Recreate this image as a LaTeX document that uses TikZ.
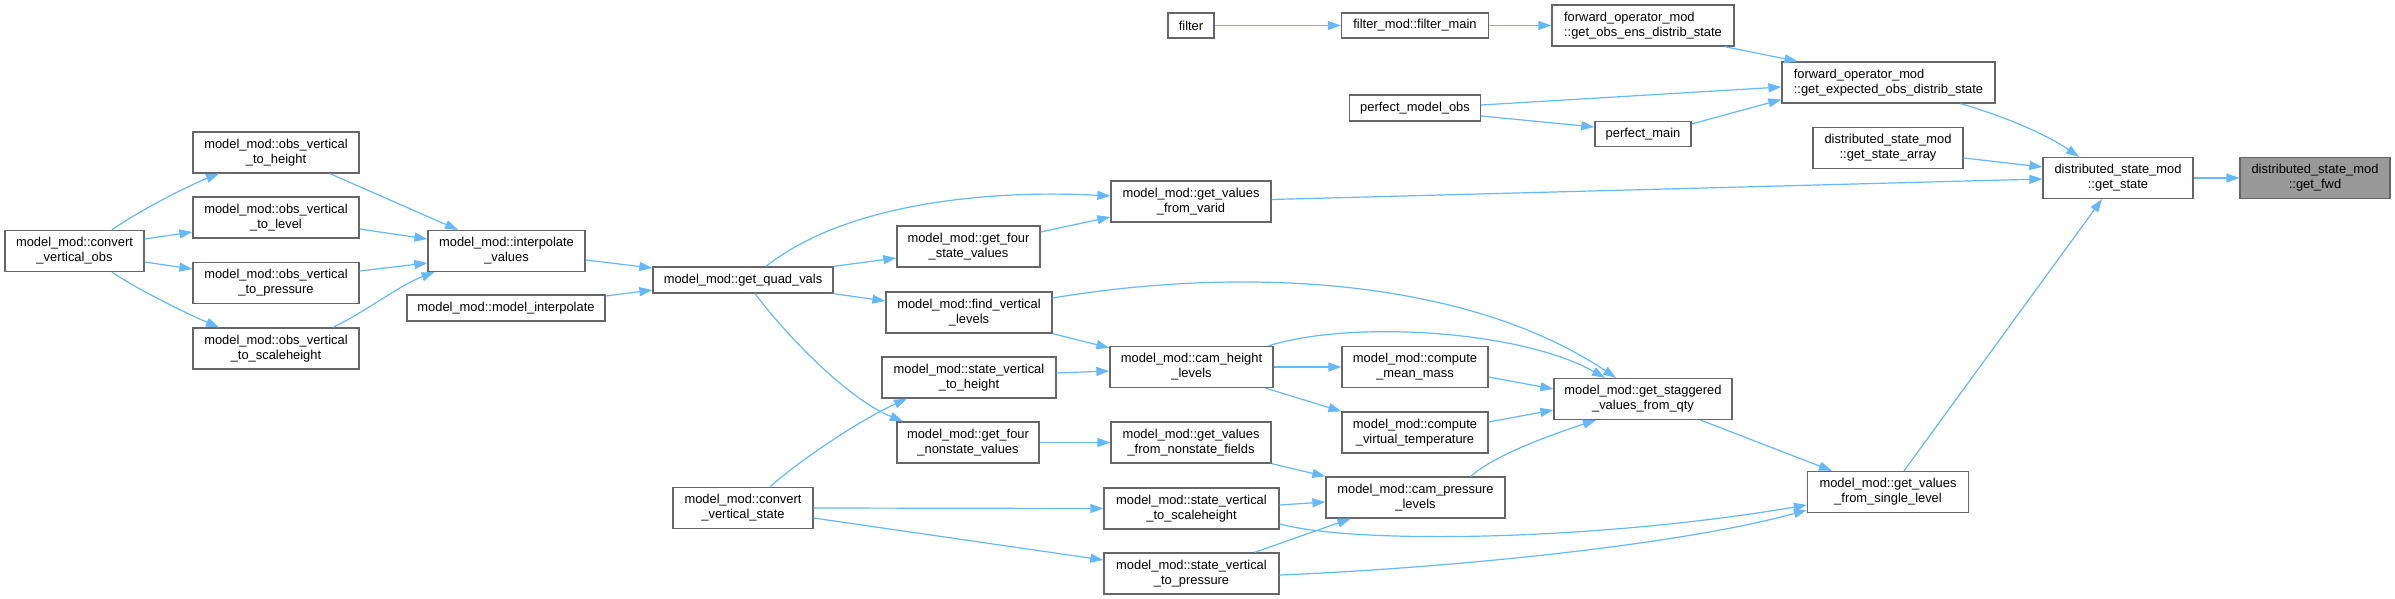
\documentclass[tikz,border=0pt]{standalone}
\usepackage{fontspec}
\setmainfont{Liberation Sans}
\usetikzlibrary{arrows.meta}
\definecolor{edgeblue}{HTML}{63B8FF}
\definecolor{boxgray}{HTML}{666666}
\definecolor{mainfill}{HTML}{999999}
\begin{document}
\begin{tikzpicture}[x=1pt,y=-1pt,
  fn/.style={draw=boxgray, line width=1.3pt, fill=white, inner sep=1pt, align=center, text=black,
    font=\fontsize{12.9pt}{15pt}\selectfont, minimum height=41pt},
  fnone/.style={fn, minimum height=26pt},
  call/.style={draw=edgeblue, line width=1.2pt, -{Triangle[length=13pt,width=9pt]}},
]
\useasboundingbox[fill=white] (0,0) rectangle (2395,599);

% nodes
\node[fn, minimum width=150pt, fill=mainfill] (fwd) at (2315,178) {distributed\_state\_mod\\::get\_fwd};
\node[fn, minimum width=150pt] (gs) at (2118,178) {distributed\_state\_mod\\::get\_state};
\node[fn, minimum width=213pt, align=left] (gexp) at (1888.5,82.5) {forward\_operator\_mod\\::get\_expected\_obs\_distrib\_state};
\node[fn, minimum width=150pt] (gsa) at (1888,148) {distributed\_state\_mod\\::get\_state\_array};
\node[fn, minimum width=161pt] (gsl) at (1888,492) {model\_mod::get\_values\\\_from\_single\_level};
\node[fn, minimum width=182pt, align=left] (goes) at (1643,25.5) {forward\_operator\_mod\\::get\_obs\_ens\_distrib\_state};
\node[fnone, minimum width=96pt, minimum height=25pt] (pmain) at (1643,134) {perfect\_main};
\node[fn, minimum width=178pt] (stag) at (1643,399) {model\_mod::get\_staggered\\\_values\_from\_qty};
\node[fnone, minimum width=147pt, minimum height=25pt] (fmain) at (1415,25.5) {filter\_mod::filter\_main};
\node[fnone, minimum width=131pt] (pmo) at (1415,108) {perfect\_model\_obs};
\node[fn, minimum width=146pt] (mmass) at (1415,367) {model\_mod::compute\\\_mean\_mass};
\node[fn, minimum width=146pt] (vtemp) at (1415,432.5) {model\_mod::compute\\\_virtual\_temperature};
\node[fn, minimum width=179pt] (cpl) at (1415.5,497.5) {model\_mod::cam\_pressure\\\_levels};
\node[fnone, minimum width=46pt, minimum height=25pt] (filter) at (1191,25.5) {filter};
\node[fn, minimum width=160pt] (varid) at (1191,201.5) {model\_mod::get\_values\\\_from\_varid};
\node[fn, minimum width=163pt] (chl) at (1191.5,367) {model\_mod::cam\_height\\\_levels};
\node[fn, minimum width=160pt] (nsf) at (1191,442.5) {model\_mod::get\_values\\\_from\_nonstate\_fields};
\node[fn, minimum width=175pt] (svsh) at (1191.5,508.5) {model\_mod::state\_vertical\\\_to\_scaleheight};
\node[fn, minimum width=175pt] (svp) at (1191.5,573.5) {model\_mod::state\_vertical\\\_to\_pressure};
\node[fn, minimum width=143pt] (fsv) at (968.5,246.5) {model\_mod::get\_four\\\_state\_values};
\node[fn, minimum width=166pt] (fvl) at (969,312.5) {model\_mod::find\_vertical\\\_levels};
\node[fn, minimum width=174pt] (svh) at (969,377.5) {model\_mod::state\_vertical\\\_to\_height};
\node[fn, minimum width=142pt] (fns) at (968,442.5) {model\_mod::get\_four\\\_nonstate\_values};
\node[fnone, minimum width=180pt] (qv) at (743,280) {model\_mod::get\_quad\_vals};
\node[fn, minimum width=140pt] (cvs) at (743,508) {model\_mod::convert\\\_vertical\_state};
\node[fn, minimum width=157pt] (iv) at (506.5,251) {model\_mod::interpolate\\\_values};
\node[fnone, minimum width=198pt] (mi) at (506,308) {model\_mod::model\_interpolate};
\node[fn, minimum width=166pt] (oh) at (276,152.5) {model\_mod::obs\_vertical\\\_to\_height};
\node[fn, minimum width=166pt] (ol) at (276,217.5) {model\_mod::obs\_vertical\\\_to\_level};
\node[fn, minimum width=166pt] (op) at (276,283) {model\_mod::obs\_vertical\\\_to\_pressure};
\node[fn, minimum width=166pt] (os) at (276,348.5) {model\_mod::obs\_vertical\\\_to\_scaleheight};
\node[fn, minimum width=139pt] (cvo) at (74.5,251) {model\_mod::convert\\\_vertical\_obs};

% edges
\draw[call] (gs.east) -- (fwd.west);
\draw[call] ([xshift=72pt]gexp.south) .. controls (1990,112) and (2040,130) .. ([xshift=-39pt]gs.north);
\draw[call] ([yshift=-10pt]gsa.east) -- ([yshift=11pt]gs.west);
\draw[call] ([yshift=2pt]varid.east) -- ([yshift=-1pt]gs.west);
\draw[call] ([xshift=16pt]gsl.north) -- ([xshift=-16pt]gs.south);
\draw[call] ([xshift=-10pt]goes.south east) -- ([xshift=-91pt]gexp.north);
\draw[call] ([yshift=3pt]pmo.east) -- ([yshift=-4.5pt]gexp.west);
\draw[call] ([yshift=-8pt]pmo.east) -- ([yshift=7pt]pmain.west);
\draw[call] ([yshift=10pt]pmain.east) -- ([yshift=-17pt]gexp.west);
\draw[call] (filter.east) -- (fmain.west);
\draw[call] (fmain.east) -- (goes.west);

\draw[call] ([yshift=14.5pt]fsv.east) -- ([yshift=-15.5pt]varid.west);
\draw[call] ([xshift=23pt]qv.north) .. controls (850,200) and (1000,190) .. ([yshift=5.5pt]varid.west);
\draw[call] (qv.north east) -- ([yshift=-11.5pt]fsv.west);
\draw[call] (qv.south east) -- ([yshift=11.5pt]fvl.west);
\draw[call] ([xshift=12pt]qv.south) .. controls (790,340) and (850,400) .. ([xshift=-65pt]fns.north);
\draw[call] ([yshift=-9pt]iv.east) -- ([yshift=12pt]qv.west);
\draw[call] ([yshift=12pt]mi.east) -- ([yshift=-10pt]qv.west);
\draw[call] ([xshift=54pt]oh.south) -- ([xshift=-48.5pt]iv.north);
\draw[call] ([yshift=-11.5pt]ol.east) -- ([yshift=12pt]iv.west);
\draw[call] ([yshift=12pt]op.east) -- ([yshift=-12pt]iv.west);
\draw[call] ([xshift=57pt]os.north) .. controls (365,312) and (400,285) .. ([xshift=-72pt]iv.south);
\draw[call] ([xshift=37.5pt]cvo.north) .. controls (140,210) and (190,185) .. ([xshift=-57pt]oh.south);
\draw[call] ([yshift=12pt]cvo.east) -- ([yshift=-14.5pt]ol.west);
\draw[call] ([yshift=-11pt]cvo.east) -- ([yshift=14pt]op.west);
\draw[call] ([xshift=37.5pt]cvo.south) .. controls (140,291) and (190,315) .. ([xshift=-57pt]os.north);

\draw[call] (fvl.south east) -- ([yshift=-2pt]chl.north west);
\draw[call] ([yshift=14.5pt]fvl.east) .. controls (1250,265) and (1470,280) .. ([xshift=-27pt]stag.north);
\draw[call] ([xshift=-5pt]chl.north east) .. controls (1350,320) and (1520,330) .. ([xshift=-38pt]stag.north);
\draw[call] (chl.east) -- (mmass.west);
\draw[call] ([xshift=-8pt]chl.south east) -- (vtemp.north west);
\draw[call] ([yshift=-10pt]mmass.east) -- ([yshift=10pt]stag.west);
\draw[call] ([yshift=10.5pt]vtemp.east) -- ([yshift=-11pt]stag.west);
\draw[call] ([yshift=4.5pt]svh.east) -- ([yshift=-4pt]chl.west);
\draw[call] ([xshift=27pt]cvs.north) .. controls (800,460) and (860,420) .. ([xshift=-62pt]svh.south);
\draw[call] (cvs.east) -- (svsh.west);
\draw[call] ([yshift=-10pt]cvs.east) -- ([yshift=13.5pt]svp.west);
\draw[call] (fns.east) -- (nsf.west);
\draw[call] (nsf.south east) -- (cpl.north west);
\draw[call] ([xshift=55pt]cpl.north) .. controls (1495,455) and (1550,435) .. ([xshift=-47pt]stag.south);
\draw[call] ([yshift=3.5pt]svsh.east) -- ([yshift=-4.5pt]cpl.west);
\draw[call] ([xshift=63pt]svp.north) -- ([xshift=-65pt]cpl.south);
\draw[call] ([yshift=-15.5pt]svsh.east) .. controls (1360,545) and (1600,540) .. ([yshift=-13pt]gsl.west);
\draw[call] ([yshift=-1.5pt]svp.east) .. controls (1450,568) and (1680,545) .. ([yshift=-18pt]gsl.west);
\draw[call] ([xshift=-32pt]stag.south east) -- ([xshift=-56pt]gsl.north);
\end{tikzpicture}
\end{document}
